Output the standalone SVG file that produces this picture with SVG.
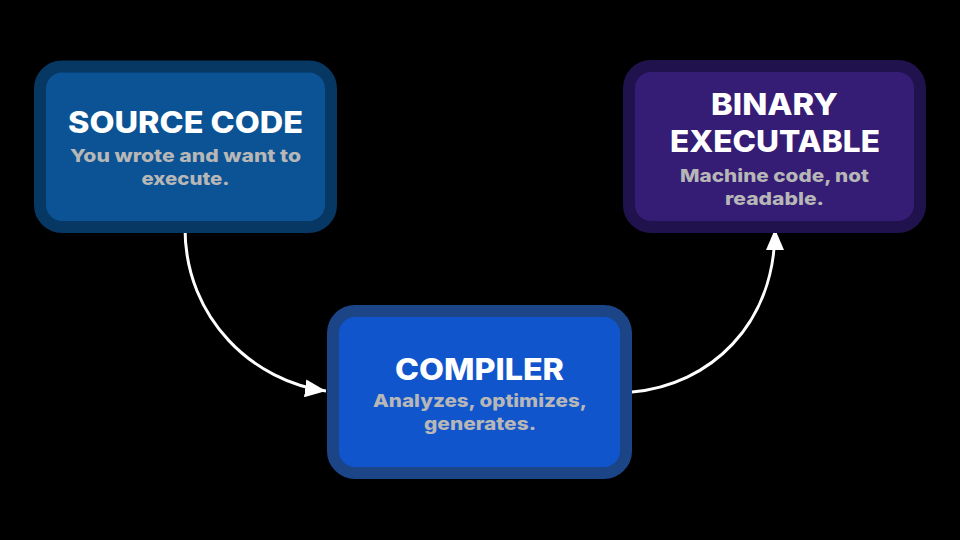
<svg xmlns="http://www.w3.org/2000/svg" width="960" height="540" viewBox="0 0 960 540">
<defs>
<marker id="arr" markerWidth="7" markerHeight="6" refX="7" refY="3" orient="auto" markerUnits="strokeWidth" viewBox="0 0 7 6">
<path d="M0,0 L7,3 L0,6 Z" fill="#ffffff"/>
</marker>
<style>
.box{stroke-width:12}
.title{font-family:"Inter","Liberation Sans",sans-serif;font-weight:800;font-size:30px;fill:#ffffff;text-anchor:middle}
.sub{font-family:"Inter","Liberation Sans",sans-serif;font-weight:800;font-size:18px;fill:#b7b7b7;text-anchor:middle}
.conn{fill:none;stroke:#ffffff;stroke-width:3;marker-end:url(#arr)}
</style>
</defs>
<rect width="960" height="540" fill="#000000"/>
<g id="connectors">
<path class="conn" d="M185,228 C185,320 255,382 326,391"/>
<path class="conn" d="M632,392 C710,385 775,325 775,229"/>
</g>
<g id="source-code">
<rect class="box" x="40" y="66.5" width="291" height="160.5" rx="22" fill="#0b5394" stroke="#073763"/>
<text class="title" x="185.5" y="133" textLength="235" lengthAdjust="spacingAndGlyphs">SOURCE CODE</text>
<text class="sub" x="185.5" y="162" textLength="231" lengthAdjust="spacingAndGlyphs">You wrote and want to</text>
<text class="sub" x="185.5" y="185" textLength="88" lengthAdjust="spacingAndGlyphs">execute.</text>
</g>
<g id="compiler">
<rect class="box" x="333" y="311" width="293" height="162" rx="22" fill="#1155cc" stroke="#1c4587"/>
<text class="title" x="479.5" y="380" textLength="169" lengthAdjust="spacingAndGlyphs">COMPILER</text>
<text class="sub" x="480" y="407" textLength="214" lengthAdjust="spacingAndGlyphs">Analyzes, optimizes,</text>
<text class="sub" x="480" y="430" textLength="112" lengthAdjust="spacingAndGlyphs">generates.</text>
</g>
<g id="binary-executable">
<rect class="box" x="629" y="66" width="291" height="161" rx="22" fill="#351c75" stroke="#20124d"/>
<text class="title" x="774.5" y="115" textLength="127" lengthAdjust="spacingAndGlyphs">BINARY</text>
<text class="title" x="775" y="152" textLength="210" lengthAdjust="spacingAndGlyphs">EXECUTABLE</text>
<text class="sub" x="774.5" y="182" textLength="189" lengthAdjust="spacingAndGlyphs">Machine code, not</text>
<text class="sub" x="774.5" y="205" textLength="99" lengthAdjust="spacingAndGlyphs">readable.</text>
</g>
</svg>
